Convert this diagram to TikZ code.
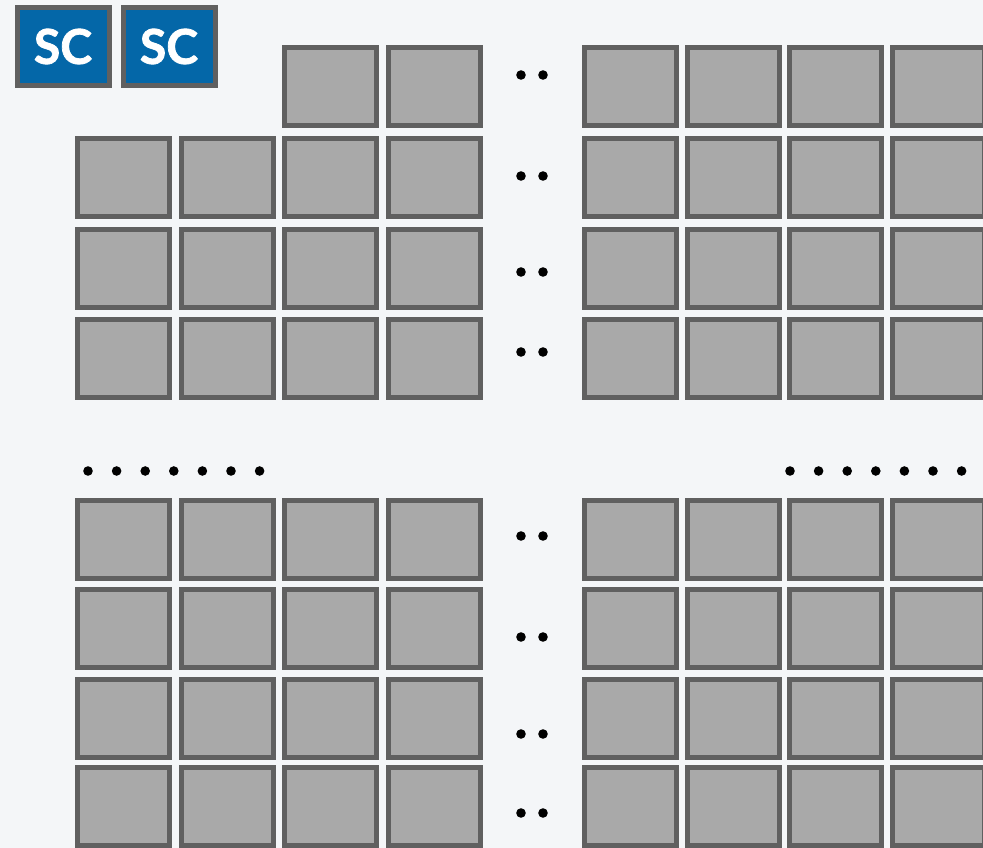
\documentclass[tikz,border=0pt]{standalone}
\usepackage{fontspec}
\setsansfont{Lato}
\newfontfamily\scfont[BoldFeatures={FakeBold=1.6}]{Lato}
\definecolor{bgc}{HTML}{F4F6F8}
\definecolor{cellfill}{HTML}{A9A9A9}
\definecolor{celledge}{HTML}{606060}
\definecolor{cellinner}{HTML}{9A9A9A}
\definecolor{scblue}{HTML}{0467A8}
\begin{document}
\begin{tikzpicture}[x=1pt,y=-1pt,
  cell/.style={draw=celledge, fill=cellfill, line width=5pt, inner sep=0pt,
    minimum width=92pt, minimum height=78pt, shape=rectangle,
    append after command={
      \pgfextra{\draw[cellinner, line width=0.8pt]
        ([shift={(3pt,-3pt)}]\tikzlastnode.north west) rectangle
        ([shift={(-3pt,3pt)}]\tikzlastnode.south east);}}},
  scbox/.style={draw=celledge, fill=scblue, line width=5pt, inner sep=0pt,
    minimum width=92pt, minimum height=78pt, text=white,
    font=\scfont\bfseries\fontsize{48}{48}\selectfont},
  dot/.style={fill=black}]
\fill[bgc] (0,0) rectangle (983,848);
\useasboundingbox (0,0) rectangle (983,848);
% SC boxes
\node[scbox] (sc1) at (63,46.5) {SC};
\node[scbox] (sc2) at (169,46.5) {SC};
% top grids
\foreach \r/\y in {1/45,2/136,3/227,4/317}{
  \foreach \c/\x in {1/75,2/178.5,3/282,4/385.5}{
    \pgfmathtruncatemacro{\skip}{(\r==1 && \c<3) ? 1 : 0}
    \ifnum\skip=0
      \node[cell] (LT\r\c) at (\x+48.5,\y+41.5) {};
    \fi
  }
  \foreach \c/\x in {1/582,2/684.5,3/787,4/889.5}{
    \node[cell] (RT\r\c) at (\x+48.5,\y+41.5) {};
  }
}
% bottom grids
\foreach \r/\y in {1/498,2/587,3/677,4/765}{
  \foreach \c/\x in {1/75,2/178.5,3/282,4/385.5}{
    \node[cell] (LB\r\c) at (\x+48.5,\y+41.5) {};
  }
  \foreach \c/\x in {1/582,2/684.5,3/787,4/889.5}{
    \node[cell] (RB\r\c) at (\x+48.5,\y+41.5) {};
  }
}
% horizontal pairs of dots
\foreach \y in {75,176,272,352,536,637,734,813}{
  \fill[dot] (521,\y) circle (4.8);
  \fill[dot] (543,\y) circle (4.8);
}
% rows of dots
\foreach \i in {0,...,6}{
  \fill[dot] (88+28.6*\i,471) circle (4.8);
  \fill[dot] (790+28.6*\i,471) circle (4.8);
}
\end{tikzpicture}
\end{document}
